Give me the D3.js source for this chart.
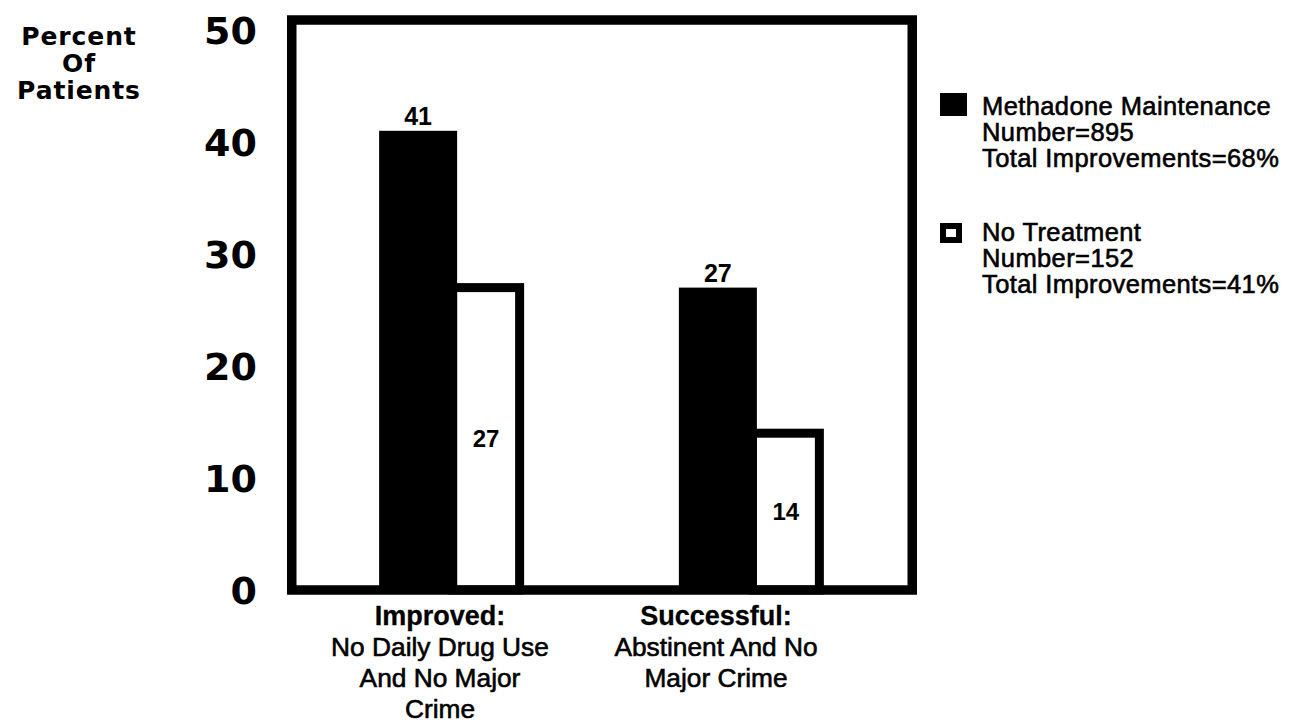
<!DOCTYPE html>
<html>
<head>
<meta charset="utf-8">
<script src="https://cdn.jsdelivr.net/npm/d3@7"></script>
<style>
  html, body { margin: 0; padding: 0; background: #fff; }
  svg { display: block; }
  text { font-family: "Liberation Sans", Arial, Helvetica, sans-serif; fill: #000; }
  .heavy { font-family: "DejaVu Sans", "Liberation Sans", sans-serif; font-weight: bold; }
</style>
</head>
<body>
<svg id="chart" width="1303" height="725"></svg>
<script>
// Outcome categories (multi-line axis labels: first line bold)
const categories = ["Improved", "Successful"];
const categoryLines = [
  ["Improved:", "No Daily Drug Use", "And No Major", "Crime"],
  ["Successful:", "Abstinent And No", "Major Crime"]
];

// Percent of patients per outcome
const methadoneValues = [41, 27];
const noTreatmentValues = [27, 14];

// Y axis ticks
const yTicks = [0, 10, 20, 30, 40, 50];
const yTitle = ["Percent", "Of", "Patients"];

// Legend entries
const seriesNames = ["Methadone Maintenance", "No Treatment"];
const seriesNotes = [
  ["Number=895", "Total Improvements=68%"],
  ["Number=152", "Total Improvements=41%"]
];

const svg = d3.select("#chart");

// Plot frame
const frame = { left: 291.75, top: 20, right: 912.25, bottom: 590 };
const frameStroke = 9.5;

const y = d3.scaleLinear().domain([0, 50]).range([590, 30]);
const x = d3.scalePoint()
  .domain(categories)
  .range([frame.left, frame.right])
  .padding(0.535);
// Category captions sit on their own, slightly tighter, point scale
const xLabel = d3.scalePoint()
  .domain(categories)
  .range([frame.left, frame.right])
  .padding(0.624);
const labelShift = -24;

// Bar geometry relative to each group centre
const blackW = 78, blackOffset = -73;
const whiteW = 67, whiteOffset = 0.5, whiteStroke = 9;

// White (no treatment) bars drawn first so the black bar covers the shared edge
svg.append("g").selectAll("rect")
  .data(noTreatmentValues)
  .join("rect")
  .attr("x", (d, i) => x(categories[i]) + whiteOffset)
  .attr("y", d => y(d))
  .attr("width", whiteW)
  .attr("height", d => y(0) - y(d))
  .attr("fill", "#fff")
  .attr("stroke", "#000")
  .attr("stroke-width", whiteStroke);

svg.append("g").selectAll("rect")
  .data(methadoneValues)
  .join("rect")
  .attr("x", (d, i) => x(categories[i]) + blackOffset)
  .attr("y", d => y(d))
  .attr("width", blackW)
  .attr("height", d => y(0) - y(d))
  .attr("fill", "#000");

// Frame on top of the bars
svg.append("rect")
  .attr("x", frame.left)
  .attr("y", frame.top)
  .attr("width", frame.right - frame.left)
  .attr("height", frame.bottom - frame.top)
  .attr("fill", "none")
  .attr("stroke", "#000")
  .attr("stroke-width", frameStroke);

// Value labels
svg.append("g").selectAll("text")
  .data(methadoneValues)
  .join("text")
  .attr("x", (d, i) => x(categories[i]) + blackOffset + blackW / 2)
  .attr("y", d => y(d) - 6)
  .attr("text-anchor", "middle")
  .attr("font-size", 25)
  .attr("font-weight", "bold")
  .text(d => d);

svg.append("g").selectAll("text")
  .data(noTreatmentValues)
  .join("text")
  .attr("x", (d, i) => x(categories[i]) + whiteOffset + whiteW / 2)
  .attr("y", d => y(d / 2))
  .attr("dy", "0.36em")
  .attr("text-anchor", "middle")
  .attr("font-size", 24)
  .attr("font-weight", "bold")
  .text(d => d);

// Y axis tick labels
svg.append("g").selectAll("text")
  .data(yTicks)
  .join("text")
  .attr("class", "heavy")
  .attr("x", 257)
  .attr("y", d => y(d))
  .attr("dy", "0.36em")
  .attr("text-anchor", "end")
  .attr("font-size", 38)
  .text(d => d);

// Y axis title
svg.append("text")
  .attr("class", "heavy")
  .attr("text-anchor", "middle")
  .attr("font-size", 25)
  .attr("letter-spacing", 0.9)
  .selectAll("tspan")
  .data(yTitle)
  .join("tspan")
  .attr("x", 79)
  .attr("y", (d, i) => 45 + i * 27)
  .text(d => d);

// Category labels
categoryLines.forEach((lines, i) => {
  const t = svg.append("text")
    .attr("text-anchor", "middle");
  t.selectAll("tspan")
    .data(lines)
    .join("tspan")
    .attr("x", xLabel(categories[i]) + labelShift)
    .attr("y", (d, j) => 625 + j * 31)
    .attr("font-size", (d, j) => j === 0 ? 27 : 26.3)
    .attr("font-weight", (d, j) => j === 0 ? "bold" : "normal")
    .attr("stroke", "#000")
    .attr("stroke-width", (d, j) => j === 0 ? 0.3 : 0.6)
    .text(d => d);
});

// Legend
const legendX = 940, textX = 982;
const legendBase = [115, 241];
const legend = svg.append("g");
seriesNames.forEach((name, i) => {
  const base = legendBase[i];
  if (i === 0) {
    legend.append("rect")
      .attr("x", legendX).attr("y", base - 22)
      .attr("width", 27).attr("height", 23)
      .attr("fill", "#000");
  } else {
    legend.append("rect")
      .attr("x", legendX + 3).attr("y", base - 15)
      .attr("width", 16).attr("height", 14)
      .attr("fill", "#fff")
      .attr("stroke", "#000")
      .attr("stroke-width", 6);
  }
  const t = legend.append("text")
    .attr("font-size", 25.5)
    .attr("letter-spacing", 0.4)
    .attr("stroke", "#000")
    .attr("stroke-width", 0.6);
  t.selectAll("tspan")
    .data([name].concat(seriesNotes[i]))
    .join("tspan")
    .attr("x", textX)
    .attr("y", (d, j) => base + j * 26)
    .text(d => d);
});
</script>
</body>
</html>
